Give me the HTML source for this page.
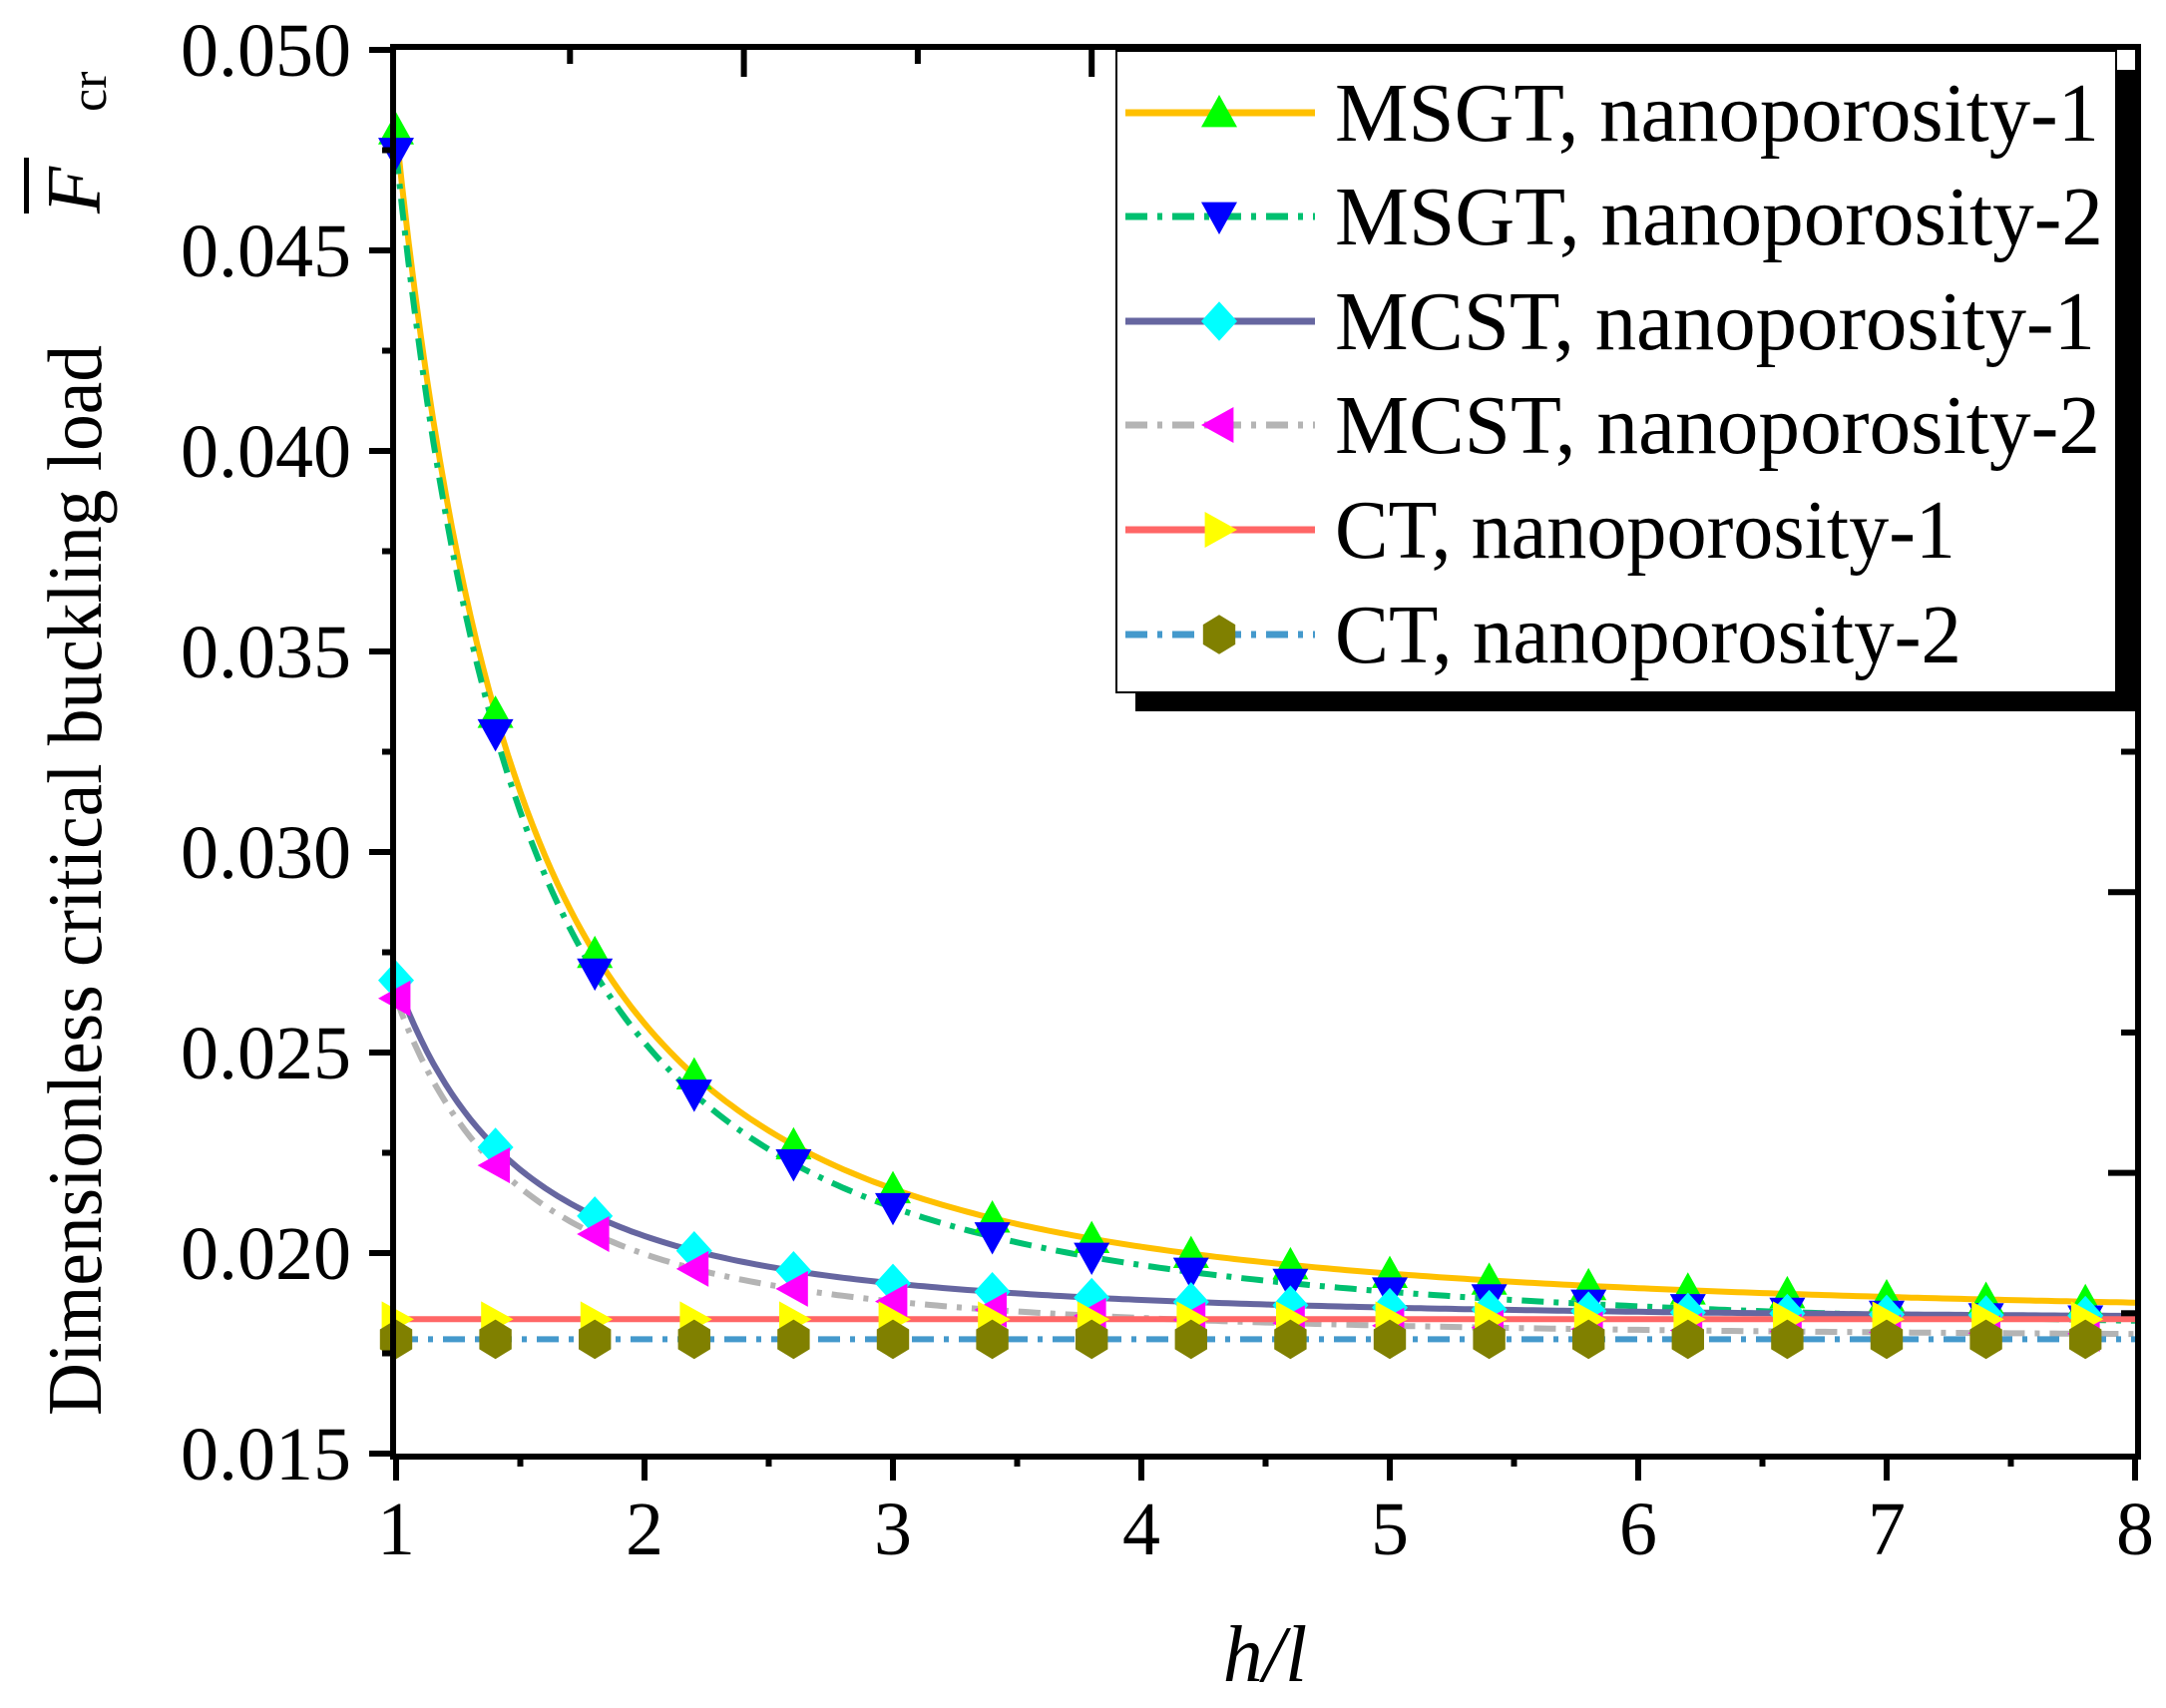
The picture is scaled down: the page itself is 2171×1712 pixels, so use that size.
<!DOCTYPE html>
<html><head><meta charset="utf-8"><style>
html,body{margin:0;padding:0;background:#fff;}
svg{display:block;font-family:"Liberation Serif","Times New Roman","DejaVu Serif",serif;}
text{font-family:"Liberation Serif","Times New Roman","DejaVu Serif",serif;fill:#000;}
</style></head><body>
<svg id="s" width="2171" height="1712" viewBox="0 0 2171 1712" xmlns="http://www.w3.org/2000/svg" font-family="Liberation Serif, Times New Roman, DejaVu Serif, serif">
<rect width="2171" height="1712" fill="#fff"/>
<g id="plot"></g>
<g id="axes"></g>
<rect x="1138" y="70" width="1004" height="643" fill="#000"/>
<rect x="1119" y="51" width="1002" height="643" fill="#fff" stroke="#000" stroke-width="2"/>
<g id="leg"></g>
<text transform="translate(101,1419) rotate(-90)" font-size="77" textLength="1073" lengthAdjust="spacingAndGlyphs">Dimensionless critical buckling load</text>
<text transform="translate(100,214) rotate(-90)" font-size="77" font-style="italic">F</text>
<rect x="24" y="158" width="5" height="56" fill="#000"/>
<text transform="translate(106,112) rotate(-90)" font-size="52">cr</text>
<text x="1268" y="1685" font-size="80" font-style="italic" text-anchor="middle">h/l</text>
</svg>
<script>
const NS="http://www.w3.org/2000/svg";
const L=397,R=2140,T=50,B=1457;
const X=x=>L+(x-1)*(R-L)/7;
const Y=v=>B-(v-0.015)*(B-T)/0.035;
const FF="Liberation Serif, Times New Roman, DejaVu Serif, serif";
function el(p,tag,a,txt){const e=document.createElementNS(NS,tag);for(const k in a)e.setAttribute(k,a[k]);if(txt!==undefined){e.textContent=txt;e.setAttribute("font-family",FF);}document.getElementById(p).appendChild(e);return e;}
const dash="22 10 5 10";
const S=[
 {a:0.0183,b:0.0297,c:"#ffc000",d:null,m:"up",mc:"#00ff00",lab:"MSGT, nanoporosity-1"},
 {a:0.01785,b:0.0296,c:"#00c070",d:dash,m:"down",mc:"#0000ff",lab:"MSGT, nanoporosity-2"},
 {a:0.0183,b:0.0085,c:"#6666a0",d:null,m:"dia",mc:"#00ffff",lab:"MCST, nanoporosity-1"},
 {a:0.01785,b:0.0085,c:"#b4b4b4",d:dash,m:"left",mc:"#ff00ff",lab:"MCST, nanoporosity-2"},
 {a:0.01835,b:0,c:"#ff6666",d:null,m:"right",mc:"#ffff00",lab:"CT, nanoporosity-1"},
 {a:0.01785,b:0,c:"#4499cc",d:dash,m:"hex",mc:"#808000",lab:"CT, nanoporosity-2"}];
function marker(p,t,x,y,c){const s=18;let pts;
 if(t=="up")pts=[[x,y-s],[x+s,y+s*0.8],[x-s,y+s*0.8]];
 else if(t=="down")pts=[[x,y+s],[x+s,y-s*0.8],[x-s,y-s*0.8]];
 else if(t=="left")pts=[[x-s,y],[x+s*0.8,y-s],[x+s*0.8,y+s]];
 else if(t=="right")pts=[[x+s,y],[x-s*0.8,y-s],[x-s*0.8,y+s]];
 else if(t=="dia")pts=[[x,y-s*1.1],[x+s,y],[x,y+s*1.1],[x-s,y]];
 else pts=[[x,y-s*1.1],[x+s*0.9,y-s*0.55],[x+s*0.9,y+s*0.55],[x,y+s*1.1],[x-s*0.9,y+s*0.55],[x-s*0.9,y-s*0.55]];
 el(p,"polygon",{points:pts.map(q=>q.join(",")).join(" "),fill:c});}
S.forEach(s=>{let d="";for(let i=0;i<=280;i++){const x=1+7*i/280;d+=(i?"L":"M")+X(x).toFixed(1)+","+Y(s.a+s.b/(x*x)).toFixed(1);}
 const a={d:d,fill:"none",stroke:s.c,"stroke-width":6};if(s.d)a["stroke-dasharray"]=s.d;el("plot","path",a);});
S.forEach(s=>{for(let i=0;i<18;i++){const x=1+0.4*i;marker("plot",s.m,X(x),Y(s.a+s.b/(x*x)),s.mc);}});
el("axes","rect",{x:L-3,y:T-3,width:R-L+6,height:B-T+6,fill:"none",stroke:"#000","stroke-width":6});
for(let i=0;i<=14;i++){const x=L+i*(R-L)/14;el("axes","line",{x1:x,x2:x,y1:B,y2:B+(i%2?13:27),stroke:"#000","stroke-width":6});}
for(let i=1;i<=8;i++)el("axes","text",{x:X(i),y:1558,"font-size":76,"text-anchor":"middle"},String(i));
for(let i=0;i<=14;i++){const y=B-i*(B-T)/14;el("axes","line",{x1:L,x2:L-(i%2?14:27),y1:y,y2:y,stroke:"#000","stroke-width":6});}
for(let i=0;i<=7;i++){const v=(0.015+0.005*i).toFixed(3);el("axes","text",{x:352,y:Y(0.015+0.005*i)+26,"font-size":76,"text-anchor":"end"},v);}
for(let i=1;i<10;i++){const x=L+i*(R-L)/10;el("axes","line",{x1:x,x2:x,y1:T,y2:T+(i%2?14:27),stroke:"#000","stroke-width":6});}
for(let i=1;i<10;i++){const y=B-i*(B-T)/10;el("axes","line",{x1:R,x2:R-(i%2?14:27),y1:y,y2:y,stroke:"#000","stroke-width":6});}
const ly=[113,217,322,426,531,636];
S.forEach((s,i)=>{const a={x1:1128,x2:1318,y1:ly[i],y2:ly[i],stroke:s.c,"stroke-width":7};if(s.d)a["stroke-dasharray"]=s.d;el("leg","line",a);
 marker("leg",s.m,1222,ly[i],s.mc);
 const w=[766,770,762,767,622,628][i];
 el("leg","text",{x:1338,y:ly[i]+28,"font-size":84,textLength:w,lengthAdjust:"spacingAndGlyphs"},s.lab);});
</script>
</body></html>
